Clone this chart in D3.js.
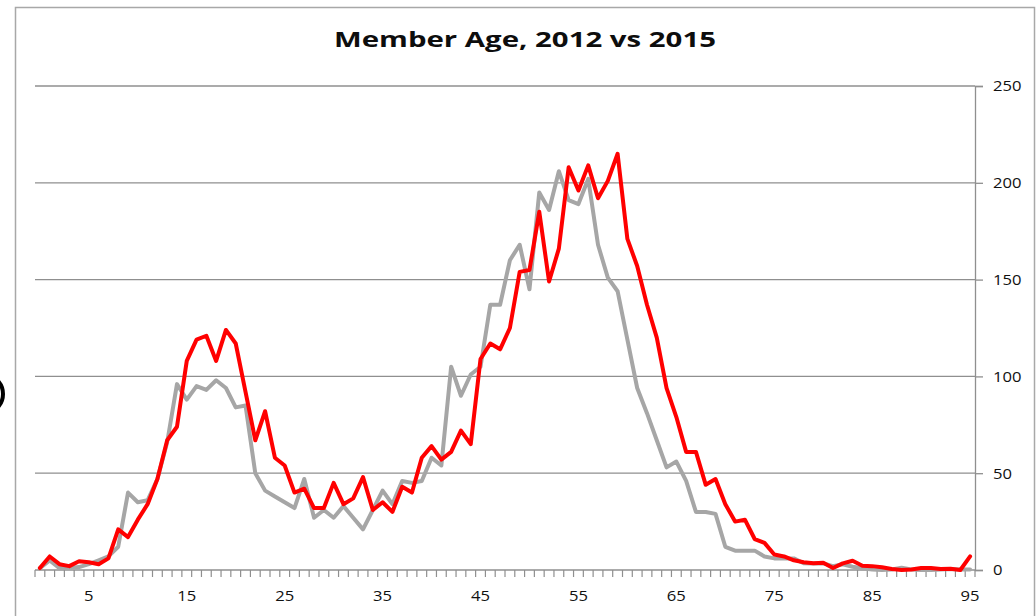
<!DOCTYPE html>
<html>
<head>
<meta charset="utf-8">
<script src="https://cdn.jsdelivr.net/npm/d3@7"></script>
<style>
  html, body { margin: 0; padding: 0; background: #fff; }
  svg { display: block; }
  text { font-family: "Open Sans", "Liberation Sans", sans-serif; }
</style>
</head>
<body>
<svg id="chart" width="1036" height="616"></svg>
<script>
// ---- data ----
const ages = d3.range(0, 96);
const members2015 = [1,7,3,2,4.5,4,3,6,21,17,26,34,47,67,74,108,119,121,108,124,
  117,92,67,82,58,54,40,42,32,32,45,34,37,48,31,35,30,43,40,58,
  64,57,61,72,65,109,117,114,125,154,155,185,149,166,208,196,209,192,201,215,
  171,157,137,120,94,79,61,61,44,47,34,25,26,16,14,8,7,5,4,3.5,
  3.8,1,3.4,4.8,2.2,2,1.4,0.5,0,0.3,1,1,0.5,0.7,0,7];
const members2012 = [1,5,1,1,1.5,3,5,7,12,40,35,36,47,66,96,88,95,93,98,94,
  84,85,50,41,38,35,32,47,27,31,27,33,27,21,31,41,34,46,45,46,
  58,54,105,90,101,105,137,137,160,168,145,195,186,206,191,189,202,168,151,144,
  119,94,81,67,53,56,46,30,30,29,12,10,10,10,7,6,6,6,3.5,3.4,
  3.4,2,3,1.7,0.9,0.3,0,0.3,1.2,0.3,0,0,0.3,0.5,0.3,0.3];
const xTickLabels = [5,15,25,35,45,55,65,75,85,95];
const yTickValues = [0,50,100,150,200,250];
const titleText = "Member Age, 2012 vs 2015";

(function () {
// ---- layout ----
const svg = d3.select("#chart");
const plotLeft = 35, plotRight = 975, plotTop = 86, plotBottom = 570;

const x = d3.scalePoint().domain(ages).range([plotLeft, plotRight]).padding(0.5);
const y = d3.scaleLinear().domain([0, 250]).range([plotBottom, plotTop]);
const step = x.step();

svg.append("rect").attr("width", 1036).attr("height", 616).attr("fill", "#fff");

// chart border
svg.append("rect")
  .attr("x", 15.5).attr("y", 7.5).attr("width", 1019).attr("height", 640)
  .attr("fill", "none").attr("stroke", "#a8a8a8").attr("stroke-width", 1.5);

// artifact at left edge
svg.append("ellipse")
  .attr("cx", -11).attr("cy", 394).attr("rx", 14).attr("ry", 17)
  .attr("fill", "none").attr("stroke", "#000").attr("stroke-width", 4);

// gridlines
svg.append("g").selectAll("line")
  .data(yTickValues.filter(v => v > 0))
  .join("line")
  .attr("x1", plotLeft).attr("x2", plotRight)
  .attr("y1", d => y(d)).attr("y2", d => y(d))
  .attr("stroke", "#8f8f8f").attr("stroke-width", 1.3);

// right axis
const yAxis = d3.axisRight(y).tickValues(yTickValues).tickSize(8).tickPadding(10).tickFormat(d3.format("d"));
const gy = svg.append("g").attr("transform", `translate(${plotRight},0)`).call(yAxis);
gy.select(".domain").attr("stroke", "#8f8f8f").attr("stroke-width", 1.3);
gy.selectAll(".tick line").attr("stroke", "#8f8f8f").attr("stroke-width", 1.3);
gy.selectAll(".tick text")
  .attr("fill", "#111").style("font-size", "15px")
  .style("font-family", "'Open Sans', 'Liberation Sans', sans-serif")
  .attr("textLength", d => String(d).length * 9.5)
  .attr("lengthAdjust", "spacingAndGlyphs");

// bottom axis (category boundaries)
const gx = svg.append("g");
gx.append("line")
  .attr("x1", plotLeft).attr("x2", plotRight)
  .attr("y1", y(0)).attr("y2", y(0))
  .attr("stroke", "#8f8f8f").attr("stroke-width", 1.5);
const boundaries = ages.map(a => x(a) - step / 2).concat([x(ages[ages.length - 1]) + step / 2]);
gx.selectAll("line.tk").data(boundaries).join("line").attr("class", "tk")
  .attr("x1", d => d).attr("x2", d => d)
  .attr("y1", y(0)).attr("y2", y(0) + 7)
  .attr("stroke", "#8f8f8f").attr("stroke-width", 1.2);
gx.selectAll("text").data(xTickLabels).join("text")
  .attr("x", d => x(d)).attr("y", 600.5)
  .attr("text-anchor", "middle")
  .attr("fill", "#111").style("font-size", "15px")
  .attr("textLength", d => String(d).length * 9.5)
  .attr("lengthAdjust", "spacingAndGlyphs")
  .text(d => d);

// lines
const line = d3.line().x((d, i) => x(ages[i])).y(d => y(d));
svg.append("path").datum(members2012)
  .attr("d", line).attr("fill", "none")
  .attr("stroke", "#a6a6a6").attr("stroke-width", 4)
  .attr("stroke-linejoin", "round").attr("stroke-linecap", "round");
svg.append("path").datum(members2015)
  .attr("d", line).attr("fill", "none")
  .attr("stroke", "#ff0000").attr("stroke-width", 4)
  .attr("stroke-linejoin", "round").attr("stroke-linecap", "round");

// title
svg.append("text")
  .attr("x", 525).attr("y", 47)
  .attr("text-anchor", "middle")
  .style("font-size", "20.5px").style("font-weight", "bold")
  .attr("fill", "#0d0d0d")
  .attr("textLength", 382).attr("lengthAdjust", "spacingAndGlyphs")
  .text(titleText);
})();
</script>
</body>
</html>
